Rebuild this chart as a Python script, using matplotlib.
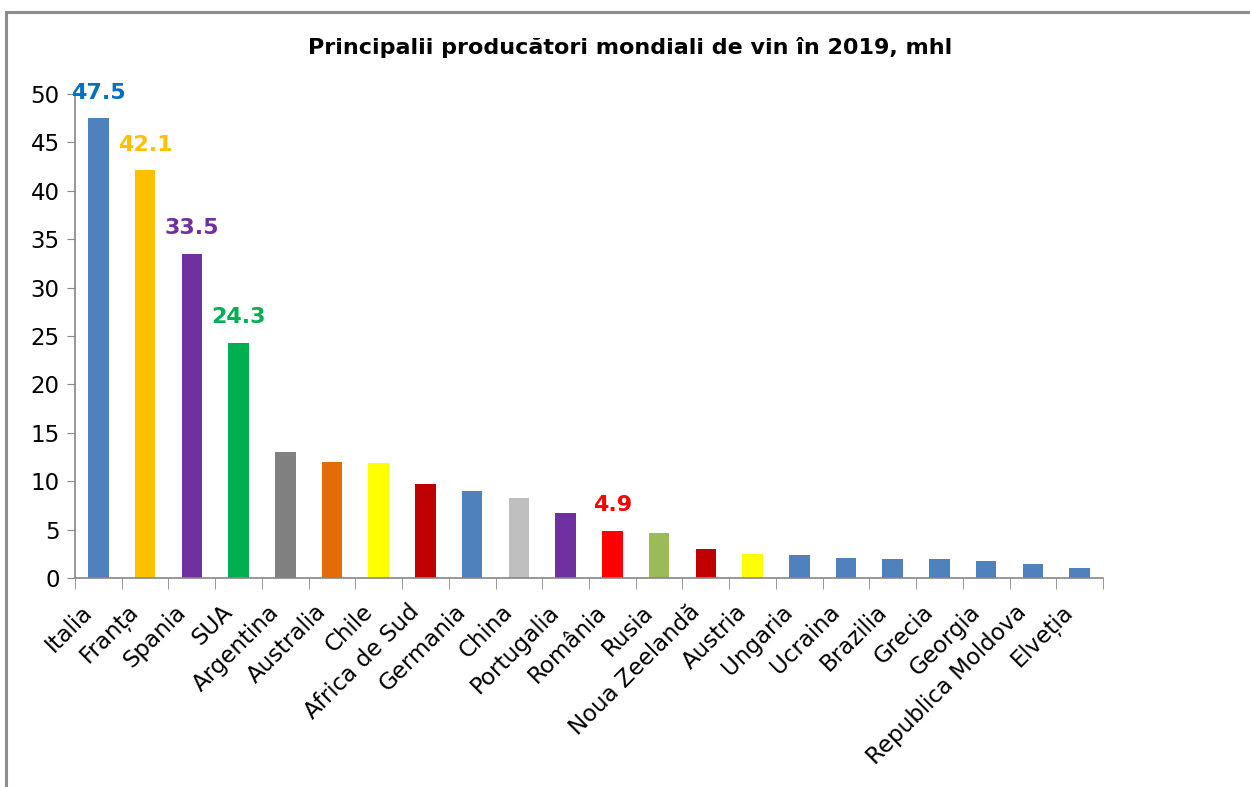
import numpy as np
import matplotlib.pyplot as plt
from matplotlib.patches import Rectangle

# date
tari = ['Italia', 'Franța', 'Spania', 'SUA', 'Argentina', 'Australia', 'Chile',
        'Africa de Sud', 'Germania', 'China', 'Portugalia', 'România', 'Rusia',
        'Noua Zeelandă', 'Austria', 'Ungaria', 'Ucraina', 'Brazilia', 'Grecia',
        'Georgia', 'Republica Moldova', 'Elveția']
productie = [47.5, 42.1, 33.5, 24.3, 13.0, 12.0, 11.9, 9.7, 9.0, 8.3, 6.7, 4.9,
             4.6, 3.0, 2.5, 2.4, 2.1, 2.0, 2.0, 1.8, 1.4, 1.0]
culori = ['#4F81BD', '#FFC000', '#7030A0', '#00B050', '#808080', '#E36C09',
          '#FFFF00', '#C00000', '#4F81BD', '#BFBFBF', '#7030A0', '#FF0000',
          '#9BBB59', '#C00000', '#FFFF00'] + ['#4F81BD'] * 7
# etichete doar pentru unele bare
etichete = {0: '#0070C0', 1: '#FFC000', 2: '#7030A0', 3: '#00B050', 11: '#FF0000'}

fig = plt.figure(figsize=(12.5, 7.87), dpi=100)
fig.patches.append(Rectangle((6/1250, -0.1), 1.5, (787-12)/787 + 0.1,
                             transform=fig.transFigure, fill=False,
                             edgecolor='#8c8c8c', linewidth=2.2))
ax = fig.add_axes([75/1250, 209/787, 1028/1250, 484/787])

x = np.arange(len(tari))
ax.bar(x, productie, width=0.44, color=culori)
for i, c in etichete.items():
    ax.annotate(f'{productie[i]:.1f}', (x[i], productie[i]), xytext=(0, 11),
                textcoords='offset points', ha='center', va='bottom',
                color=c, fontsize=16, fontweight='bold')

ax.set_xlim(-0.5, len(tari) - 0.5)
ax.set_ylim(0, 50)
ax.set_yticks(range(0, 51, 5))
# etichetele putin la stanga de centrul barei
ax.set_xticks(x - 0.38)
ax.set_xticklabels(tari, rotation=45, ha='right', rotation_mode='anchor', fontsize=16.5)
ax.set_xticks(np.arange(-0.5, len(tari)), minor=True)
ax.tick_params(axis='x', which='major', length=0, pad=16)
ax.tick_params(axis='x', which='minor', length=8, color='#868686')
ax.tick_params(axis='y', labelsize=16.5, length=6, color='#868686', pad=5)
for s in ['top', 'right']:
    ax.spines[s].set_visible(False)
for s in ['left', 'bottom']:
    ax.spines[s].set_color('#868686')
    ax.spines[s].set_linewidth(1.2)

fig.text(630/1250, 1 - 47/787, 'Principalii producători mondiali de vin în 2019, mhl',
         ha='center', va='center', fontsize=16, fontweight='bold')

fig.savefig('out.png', dpi=100)
